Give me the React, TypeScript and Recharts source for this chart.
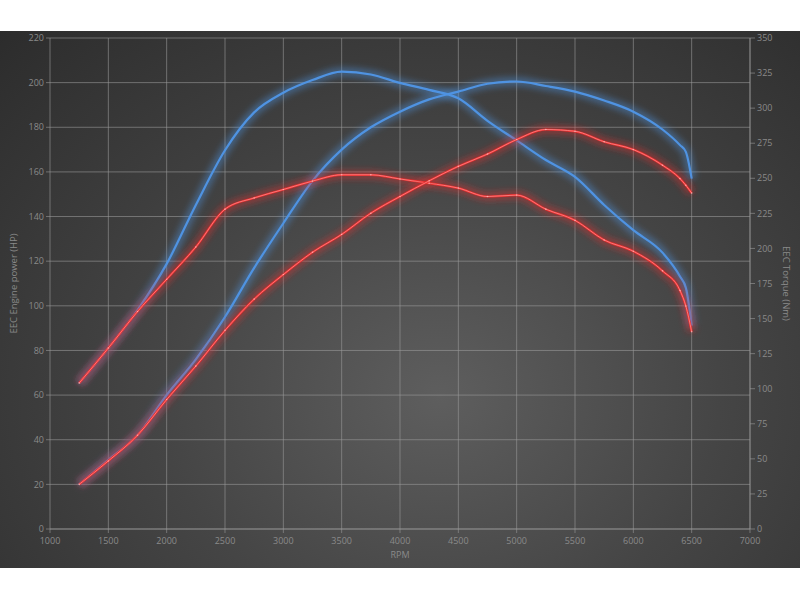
import { LineChart, Line, XAxis, YAxis, CartesianGrid } from 'recharts';

// engine speed (rpm) shared by all four curves
const rpm = [1250, 1500, 1750, 2000, 2250, 2500, 2750, 3000, 3250, 3500, 3750, 4000, 4250, 4500, 4750, 5000, 5250, 5500, 5750, 6000, 6250, 6400, 6450, 6500];

// power in HP (left axis)
const tunedPower = [20, 31, 42, 60, 76, 95, 117, 137, 156, 170, 180, 187, 192.5, 196, 199.5, 200.5, 198.5, 196, 192, 187, 179, 172, 169, 157];
const stockPower = [20, 30.5, 42, 58, 73, 89, 103, 114, 124, 132, 141.5, 149, 156, 162.5, 168, 174.5, 179, 178.2, 173.5, 170, 163, 157, 154, 150.5];

// torque in Nm (right axis)
const tunedTorque = [104, 129, 156, 189, 231, 270, 297, 311, 320, 326, 324, 318, 313, 307, 291, 277, 263, 251, 231, 213, 197, 180, 172, 145];
const stockTorque = [104, 129, 155, 178, 201, 228, 236, 242, 248, 252.5, 252.5, 249.5, 246.5, 243, 237, 238, 228, 220, 206, 198, 184, 170, 159, 140.6];

const rpmTicks = [1000, 1500, 2000, 2500, 3000, 3500, 4000, 4500, 5000, 5500, 6000, 6500, 7000];
const hpTicks = [0, 20, 40, 60, 80, 100, 120, 140, 160, 180, 200, 220];
const nmTicks = [0, 25, 50, 75, 100, 125, 150, 175, 200, 225, 250, 275, 300, 325, 350];

const data = rpm.map((r, i) => ({
  rpm: r,
  tunedPower: tunedPower[i],
  stockPower: stockPower[i],
  tunedTorque: tunedTorque[i],
  stockTorque: stockTorque[i],
}));

const BLUE = '#4f93e2';
const RED = '#ea2c2c';
const textColor = '#8a8a8a';
const gridColor = '#9a9a9a';
const font = '"Open Sans", "DejaVu Sans", sans-serif';

// each curve = soft blurred halo + thin core (+ light highlight on the red ones)
function glowLines(key: string, axis: string, color: string, red: boolean) {
  const out = [
    <Line key={key + '-glow'} yAxisId={axis} type="monotone" dataKey={key} stroke={color} strokeWidth={9} strokeOpacity={0.42}
      filter="url(#blur)" dot={false} activeDot={false} isAnimationActive={false} />,
    <Line key={key + '-core'} yAxisId={axis} type="monotone" dataKey={key} stroke={color} strokeWidth={2.2}
      dot={false} activeDot={false} isAnimationActive={false} />,
  ];
  if (red) {
    out.push(
      <Line key={key + '-hi'} yAxisId={axis} type="monotone" dataKey={key} stroke="#ff9a9a" strokeWidth={0.7}
        dot={{ r: 0.8, fill: '#ffc8c8', fillOpacity: 0.7, stroke: 'none' }} activeDot={false} isAnimationActive={false} />
    );
  }
  return out;
}

export default function App() {
  return (
    <div style={{ position: 'absolute', top: 0, left: 0, width: 800, height: 600, background: '#fff' }}>
      <div style={{
        position: 'absolute', top: 31, left: 0, width: 800, height: 537,
        background: 'radial-gradient(ellipse at 55% 68%, #5e5e5e 0%, #454545 45%, #2c2c2c 100%)',
      }}>
        <LineChart width={800} height={537} data={data} margin={{ top: 7, right: 0, bottom: 0, left: 0 }}
          style={{ fontFamily: font }}>
          <defs>
            <filter id="blur" filterUnits="userSpaceOnUse" x="0" y="0" width="800" height="600">
              <feGaussianBlur stdDeviation="3" />
            </filter>
          </defs>
          <CartesianGrid yAxisId="hp" stroke={gridColor} strokeOpacity={0.6} horizontalValues={hpTicks} verticalValues={rpmTicks} />
          <XAxis dataKey="rpm" type="number" domain={[1000, 7000]} ticks={rpmTicks} height={39} tickSize={4} tickMargin={5}
            axisLine={{ stroke: gridColor, strokeOpacity: 0.6 }} tickLine={{ stroke: gridColor, strokeOpacity: 0.6 }}
            tick={{ fill: textColor, fontSize: 9 }}
            label={{ value: 'RPM', position: 'insideBottom', offset: 10, fill: textColor, fontSize: 9 }} />
          <YAxis yAxisId="hp" domain={[0, 220]} ticks={hpTicks} width={50} tickSize={4}
            axisLine={false} tickLine={{ stroke: gridColor, strokeOpacity: 0.6 }}
            tick={{ fill: textColor, fontSize: 9 }}
            label={{ value: 'EEC Engine power (HP)', angle: -90, position: 'insideLeft', offset: 14, fill: textColor, fontSize: 9.5, style: { textAnchor: 'middle' } }} />
          <YAxis yAxisId="nm" orientation="right" domain={[0, 350]} ticks={nmTicks} width={50} tickSize={5}
            axisLine={{ stroke: gridColor, strokeOpacity: 0.6 }} tickLine={{ stroke: gridColor, strokeOpacity: 0.6 }}
            tick={{ fill: textColor, fontSize: 9 }}
            label={{ value: 'EEC Torque (Nm)', angle: 90, position: 'insideRight', offset: 14, fill: textColor, fontSize: 9.5, style: { textAnchor: 'middle' } }} />
          {glowLines('tunedTorque', 'nm', BLUE, false)}
          {glowLines('tunedPower', 'hp', BLUE, false)}
          {glowLines('stockTorque', 'nm', RED, true)}
          {glowLines('stockPower', 'hp', RED, true)}
        </LineChart>
      </div>
    </div>
  );
}
